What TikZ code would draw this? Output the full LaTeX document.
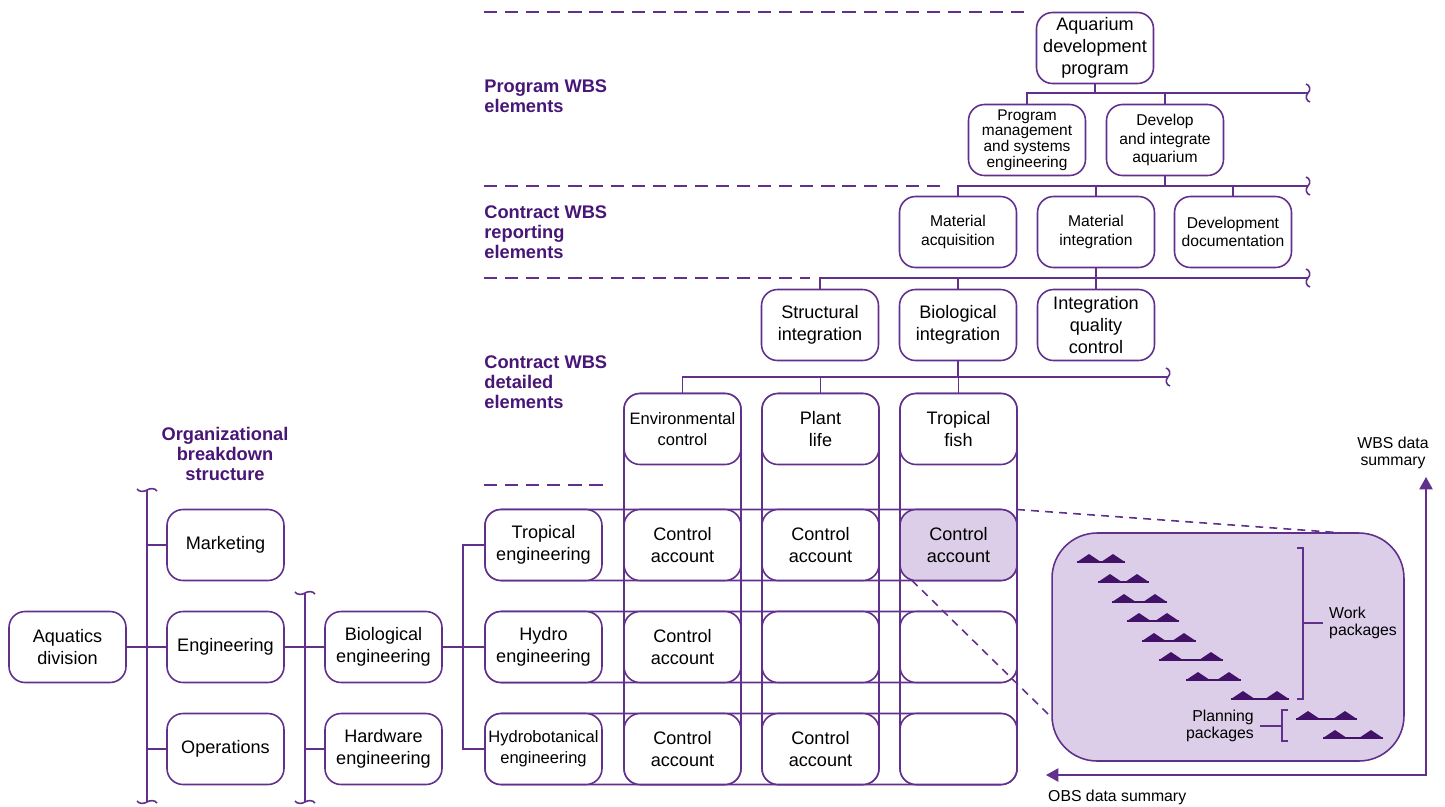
\documentclass[tikz,border=0pt]{standalone}
\usepackage{fontspec}
\setmainfont{Liberation Sans}
\usetikzlibrary{arrows.meta,backgrounds}

\definecolor{obsline}{RGB}{96,48,140}
\definecolor{obshead}{RGB}{72,22,118}
\definecolor{obsfill}{RGB}{220,205,232}
\definecolor{obsbar}{RGB}{66,18,104}

\newcommand\txtbig{\fontsize{10.3}{12.4}\selectfont}
\newcommand\txtmid{\fontsize{9.4}{12}\selectfont}
\newcommand\txtsmall{\fontsize{8.9}{10.4}\selectfont}
\newcommand\txthead{\fontsize{10.4}{11.4}\selectfont\bfseries}
\newcommand\txtnote{\fontsize{9}{10}\selectfont}

\tikzset{
  vbreak/.pic={\draw[link] (0,0) .. controls (3,-3) and (2,-8) .. (-2,-9);
               \draw[link] (0,0) .. controls (-3,3) and (-2,8) .. (2,9);},
  hbreak/.pic={\draw[link] (0,0) .. controls (-3,2) and (-8,2) .. (-10,-1);
               \draw[link] (0,0) .. controls (3,-2) and (8,-2) .. (10,1);}
}

\begin{document}
\begin{tikzpicture}[x=0.02cm, y=-0.02cm,
    link/.style={draw=obsline, line width=0.9pt},
    box/.style={link, fill=white, rounded corners=0.32cm, outer sep=0pt,
      minimum width=2.34cm, minimum height=1.42cm, align=center, inner sep=1pt, font=\txtbig},
    divider/.style={link, dash pattern=on 7.5pt off 4.5pt},
    zoomline/.style={link, dash pattern=on 4.5pt off 3.5pt},
    head/.style={text=obshead, font=\txthead, align=left, anchor=west, inner sep=0pt},
    note/.style={font=\txtnote, align=center},
    summary/.style={link, {Triangle[length=7pt,width=7.5pt]}-{Triangle[length=7pt,width=7.5pt]}}]
  \useasboundingbox (0,0) rectangle (1445,806);

  % level dividers and headings
  \draw[divider] (484,12) -- (1030,12);
  \draw[divider] (484,186) -- (945,186);
  \draw[divider] (484,278) -- (810,278);
  \draw[divider] (484,485) -- (610,485);
  \node[head] at (484,96) (hprog) {Program WBS\\elements};
  \node[head] at (484,232) (hrep) {Contract WBS\\reporting\\elements};
  \node[head] at (484,382) (hdet) {Contract WBS\\detailed\\elements};
  \node[head, anchor=center, align=center] at (225,454) (hobs) {Organizational\\breakdown\\structure};

  % WBS
  \node[box] at (1095,48) (aqprog) {Aquarium\\development\\program};
  \node[box, font=\fontsize{8.8}{9}\selectfont] at (1027,140) (pmse) {Program\\management\\and systems\\engineering};
  \node[box, font=\txtsmall] at (1165,140) (devaq) {Develop\\and integrate\\aquarium};
  \node[box, font=\txtsmall] at (958,232) (matacq) {Material\\acquisition};
  \node[box, font=\txtsmall] at (1096,232) (matint) {Material\\integration};
  \node[box, font=\txtsmall] at (1233,232) (devdoc) {Development\\documentation};
  \node[box] at (820,325) (strint) {Structural\\integration};
  \node[box] at (958,325) (bioint) {Biological\\integration};
  \node[box] at (1096,325) (intqc) {Integration\\quality\\control};
  \node[box, font=\txtmid] at (682.5,429) (envctl) {Environmental\\control};
  \node[box] at (820.5,429) (plant) {Plant\\life};
  \node[box] at (958.5,429) (fish) {Tropical\\fish};

  \coordinate (wb1) at (1308,93);
  \coordinate (wb2) at (1308,186);
  \coordinate (wb3) at (1308,278);
  \coordinate (wb4) at (1168,377);
  \draw[link] (aqprog) -- (aqprog |- wb1);
  \draw[link] (pmse.north) |- (wb1);
  \draw[link] (devaq.north) -- (devaq.north |- wb1);
  \draw[link] (devaq) -- (devaq |- wb2);
  \draw[link] (matacq.north) |- (wb2);
  \draw[link] (matint.north) -- (matint.north |- wb2);
  \draw[link] (devdoc.north) -- (devdoc.north |- wb2);
  \draw[link] (matint) -- (matint |- wb3);
  \draw[link] (strint.north) |- (wb3);
  \draw[link] (bioint.north) -- (bioint.north |- wb3);
  \draw[link] (intqc.north) -- (intqc.north |- wb3);
  \draw[link] (bioint) -- (bioint |- wb4);
  \draw[link] (envctl.north) |- (wb4);
  \draw[link] (plant.north) -- (plant.north |- wb4);
  \draw[link] (fish.north) -- (fish.north |- wb4);
  \foreach \w in {wb1,wb2,wb3,wb4} \pic at (\w) {vbreak};

  % OBS
  \node[box] at (67.5,647) (aqdiv) {Aquatics\\division};
  \node[box] at (225.5,545) (mkt) {Marketing};
  \node[box] at (225.5,647) (eng) {Engineering};
  \node[box] at (225.5,749) (ops) {Operations};
  \node[box] at (383.5,647) (bioeng) {Biological\\engineering};
  \node[box] at (383.5,749) (hweng) {Hardware\\engineering};
  \node[box] at (543.5,545) (tropeng) {Tropical\\engineering};
  \node[box] at (543.5,647) (hydeng) {Hydro\\engineering};
  \node[box, font=\txtmid] at (543.5,749) (hbeng) {Hydrobotanical\\engineering};

  \coordinate (ob1t) at (147,490);
  \coordinate (ob1b) at (147,802);
  \coordinate (ob2t) at (305,593);
  \coordinate (ob2b) at (305,802);
  \coordinate (rowbus) at (463,647);
  \draw[link] (ob1t) -- (ob1b);
  \draw[link] (ob2t) -- (ob2b);
  \foreach \w in {ob1t,ob1b,ob2t,ob2b} \pic at (\w) {hbreak};
  \draw[link] (aqdiv) -- (eng);
  \draw[link] (mkt.west) -- (mkt.west -| ob1t);
  \draw[link] (ops.west) -- (ops.west -| ob1t);
  \draw[link] (eng) -- (bioeng);
  \draw[link] (hweng.west) -- (hweng.west -| ob2t);
  \draw[link] (bioeng) -- (hydeng);
  \draw[link] (tropeng.west) -| (rowbus) |- (hbeng.west);

  % control account matrix
  \node[box] at (682.5,545) (c11) {Control\\account};
  \node[box] at (820.5,545) (c12) {Control\\account};
  \node[box, fill=obsfill] at (958.5,545) (c13) {Control\\account};
  \node[box] at (682.5,647) (c21) {Control\\account};
  \node[box] at (820.5,647) (c22) {};
  \node[box] at (958.5,647) (c23) {};
  \node[box] at (682.5,749) (c31) {Control\\account};
  \node[box] at (820.5,749) (c32) {Control\\account};
  \node[box] at (958.5,749) (c33) {};
  \begin{scope}[on background layer]
    \foreach \a/\b in {tropeng/c13, hydeng/c23, hbeng/c33, envctl/c31, plant/c32, fish/c33}
      \draw[link, rounded corners=0.32cm] (\a.north west) rectangle (\b.south east);
  \end{scope}

  % work package detail
  \node[link, fill=obsfill, rounded corners=0.9cm, outer sep=0pt,
    minimum width=7.04cm, minimum height=4.56cm] at (1228,647) (wpanel) {};
  \draw[zoomline] (c13.north east) -- ([xshift=-1.2cm]wpanel.north east);
  \draw[zoomline] ([xshift=0.24cm]c13.south west) -- ([yshift=-1.42cm]wpanel.west);
  \foreach \l/\r/\y in {1077/1125/562, 1098/1149/582, 1112/1167/602, 1127/1179/621,
      1142/1196/641, 1159/1223/660, 1186/1241/680, 1231/1289/699,
      1296/1357/719, 1323/1383/738} {
    \fill[obsbar] (\l,\y) -- ++(12,-8) -- ++(12,8) -- cycle;
    \fill[obsbar] (\r,\y) -- ++(-12,-8) -- ++(-12,8) -- cycle;
    \draw[obsbar, line width=1.3pt] (\l,\y) -- (\r,\y);
  }
  \node[note, align=left, anchor=west] at (1323,623) (wplabel) {Work\\packages};
  \node[note, align=right, anchor=east] at (1260,726) (pplabel) {Planning\\packages};
  \draw[link] (1297,548) -- (1303,548) -- (1303,699) -- (1297,699);
  \draw[link] (1303,623) -- (wplabel.west);
  \draw[link] (1288,710) -- (1282,710) -- (1282,741) -- (1288,741);
  \draw[link] (1282,726) -- (pplabel.east);

  % data summaries
  \node[note] at (1393,453) (wbssum) {WBS data\\summary};
  \node[note, anchor=west] at (1042,797) (obssum) {OBS data summary};
  \coordinate (wbstip) at (1426,477);
  \coordinate (obstip) at (1046,775);
  \draw[summary] (wbstip) |- (obstip);
\end{tikzpicture}
\end{document}
